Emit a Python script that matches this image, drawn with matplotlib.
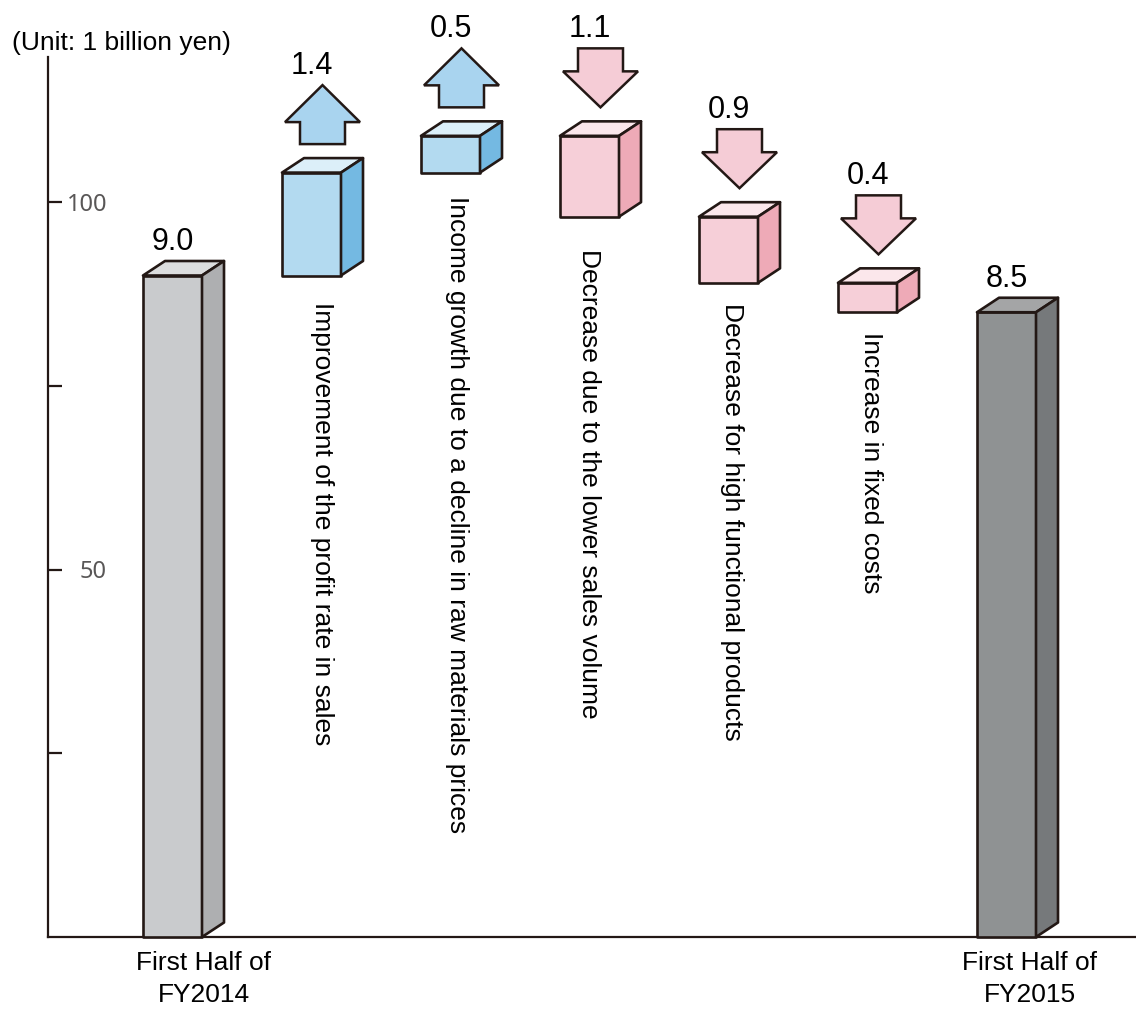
import matplotlib
matplotlib.use("Agg")
import matplotlib.pyplot as plt
from matplotlib.patches import Polygon

# ---------------- data ----------------
categories = [
    "First Half of\nFY2014",
    "Improvement of the profit rate in sales",
    "Income growth due to a decline in raw materials prices",
    "Decrease due to the lower sales volume",
    "Decrease for high functional products",
    "Increase in fixed costs",
    "First Half of\nFY2015",
]
start_value = 9.0          # billion yen
changes = [1.4, 0.5, -1.1, -0.9, -0.4]
end_value = 8.5
value_labels = ["9.0", "1.4", "0.5", "1.1", "0.9", "0.4", "8.5"]
axis_factor = 10           # the drawn axis runs in 0.1 billion yen steps
y_ticks = [25, 50, 75, 100]
y_tick_labels = ["", "50", "", "100"]
unit_text = "(Unit: 1 billion yen)"

# ---------------- style ----------------
EDGE = "#231815"
total_styles = [
    dict(front="#c9cbcd", top="#dcddde", side="#aeafb1"),
    dict(front="#8f9293", top="#a4a5a6", side="#76797b"),
]
up_style = dict(front="#b3daf0", top="#dceff9", side="#74b9e2", arrow="#a9d4ef")
down_style = dict(front="#f6cfd8", top="#fbe7eb", side="#eeaab7", arrow="#f5ccd6")
FONT = "Liberation Sans"

W_PX, H_PX = 1136, 1010
fig = plt.figure(figsize=(W_PX / 100, H_PX / 100), dpi=100)
ax_left, ax_bottom, ax_top = 48, 937, 57            # pixel layout of the axes
ax = fig.add_axes([ax_left / W_PX, (H_PX - ax_bottom) / H_PX,
                   1 - ax_left / W_PX, (ax_bottom - ax_top) / H_PX])
px_per_unit_y = 7.35
px_per_cat = 139.0
first_center_px = 172.5
ax.set_ylim(0, (ax_bottom - ax_top) / px_per_unit_y)
ax.set_xlim((ax_left - first_center_px) / px_per_cat, (W_PX - first_center_px) / px_per_cat)

# pixel -> data helpers
def pxx(p):
    return p / px_per_cat

def pxy(p):
    return p / px_per_unit_y

PT = 0.72  # points per pixel at dpi 100

front_w = pxx(59)
depth_x = pxx(22)
depth_y = pxy(14.5)
LW = 1.9


def draw_box(xc, y0, y1, st):
    xl, xr = xc - front_w / 2, xc + front_w / 2
    lo, hi = min(y0, y1), max(y0, y1)
    kw = dict(edgecolor=EDGE, linewidth=LW, joinstyle="round", clip_on=False, zorder=3)
    ax.add_patch(Polygon([(xl, lo), (xr, lo), (xr, hi), (xl, hi)], closed=True,
                         facecolor=st["front"], **kw))
    ax.add_patch(Polygon([(xl, hi), (xr, hi), (xr + depth_x, hi + depth_y), (xl + depth_x, hi + depth_y)],
                         closed=True, facecolor=st["top"], **kw))
    ax.add_patch(Polygon([(xr, lo), (xr + depth_x, lo + depth_y), (xr + depth_x, hi + depth_y), (xr, hi)],
                         closed=True, facecolor=st["side"], **kw))
    return hi + depth_y


def draw_arrow(xc, base, up, color):
    sw, hw = pxx(22.5), pxx(37.5)
    gap = pxy(14)
    if up:
        sh, hh = pxy(22), pxy(37)
        yb = base + gap
        pts = [(xc - sw, yb), (xc + sw, yb), (xc + sw, yb + sh), (xc + hw, yb + sh),
               (xc, yb + sh + hh), (xc - hw, yb + sh), (xc - sw, yb + sh)]
        top = yb + sh + hh
    else:
        sh, hh = pxy(23), pxy(36)
        yt = base + gap
        pts = [(xc, yt), (xc + hw, yt + hh), (xc + sw, yt + hh), (xc + sw, yt + hh + sh),
               (xc - sw, yt + hh + sh), (xc - sw, yt + hh), (xc - hw, yt + hh)]
        top = yt + hh + sh
    ax.add_patch(Polygon(pts, closed=True, facecolor=color, edgecolor=EDGE,
                         linewidth=1.8, joinstyle="miter", clip_on=False, zorder=3))
    return top


def value_label(x, y_top, text):
    ax.annotate(text, xy=(x, y_top), xytext=(0, 19 * PT), textcoords="offset points",
                ha="center", va="center", fontsize=22, family=FONT, color="black",
                annotation_clip=False)


# label layout (pixels): start gap below box, horizontal shift
label_gap_px = [26, 23, 32, 20, 20]
label_shift_px = [10.5, 6.5, -0.5, 3.5, 3.0]

# first total bar
top = draw_box(0, 0, start_value * axis_factor, total_styles[0])
value_label(0, top, value_labels[0])

level = start_value * axis_factor
for i, ch in enumerate(changes):
    x = i + 1
    new_level = level + ch * axis_factor
    st = up_style if ch > 0 else down_style
    box_top = draw_box(x, level, new_level, st)
    arrow_top = draw_arrow(x + depth_x / 2, box_top, ch > 0, st["arrow"])
    value_label(x, arrow_top, value_labels[x])
    ax.annotate(categories[x], xy=(x, min(level, new_level)),
                xytext=(label_shift_px[i] * PT, -label_gap_px[i] * PT), textcoords="offset points",
                rotation=-90, ha="center", va="top", fontsize=19, family=FONT,
                color="black", annotation_clip=False)
    level = new_level

# final total bar
xe = len(categories) - 1
top = draw_box(xe, 0, end_value * axis_factor, total_styles[1])
value_label(xe, top, value_labels[-1])

# bottom category labels
bottom_shift_px = [31, 23]
for j, xi in enumerate([0, xe]):
    ax.annotate(categories[xi], xy=(xi, 0), xycoords=("data", "axes fraction"),
                xytext=(bottom_shift_px[j] * PT, -10), textcoords="offset points",
                ha="center", va="top", fontsize=19, family=FONT, color="black",
                linespacing=1.45, annotation_clip=False)

# axes styling
for s in ["top", "right"]:
    ax.spines[s].set_visible(False)
for s in ["left", "bottom"]:
    ax.spines[s].set_linewidth(1.6)
    ax.spines[s].set_color(EDGE)
ax.set_xticks([])
ax.set_yticks(y_ticks)
ax.set_yticklabels(y_tick_labels)
ax.tick_params(axis="y", direction="in", length=10, width=1.6, color=EDGE,
               pad=-59 * PT, labelsize=17, labelcolor="#595757")
for lab in ax.get_yticklabels():
    lab.set_family("Noto Sans")
    lab.set_horizontalalignment("right")

fig.text(12 / W_PX, 1 - 50 / H_PX, unit_text, fontsize=19, family=FONT,
         ha="left", va="baseline", color="black")

fig.savefig("out.png", dpi=100, facecolor="white")
